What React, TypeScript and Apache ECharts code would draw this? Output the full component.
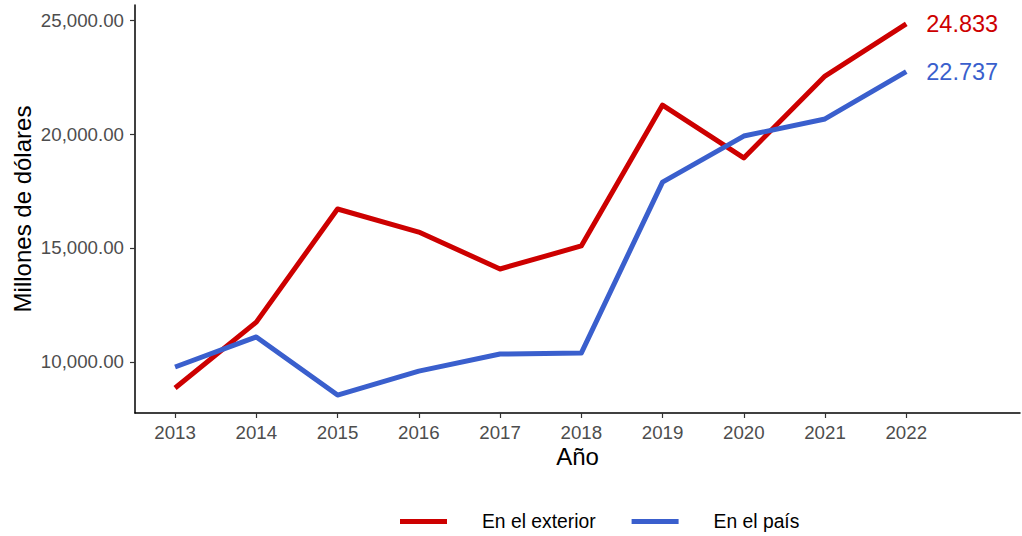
import React, { useEffect, useRef } from "react";
import * as echarts from "echarts";

const years = [2013, 2014, 2015, 2016, 2017, 2018, 2019, 2020, 2021, 2022];
const exterior = [8860, 11750, 16710, 15700, 14080, 15090, 21270, 18950, 22540, 24833];
const pais = [9780, 11100, 8550, 9600, 10350, 10390, 17890, 19910, 20660, 22737];
const yTicks = [10000, 15000, 20000, 25000];
const seriesNames = ["En el exterior", "En el país"];
const endLabels = ["24.833", "22.737"];
const colors = ["#CD0000", "#3A5FCD"];

export default function App() {
  const ref = useRef<HTMLDivElement>(null);
  useEffect(() => {
    const chart = echarts.init(ref.current!, null, { renderer: "svg" });
    const font = "Liberation Sans, Arial, sans-serif";
    const mk = (i: number, vals: number[]) => ({
      name: seriesNames[i],
      type: "line",
      data: years.map((y, k) => [y, vals[k]]),
      showSymbol: false,
      symbol: "none",
      lineStyle: { color: colors[i], width: 5, cap: "butt", join: "round" },
      itemStyle: { color: colors[i] },
      endLabel: {
        show: true,
        formatter: () => endLabels[i],
        color: colors[i],
        fontSize: 23.5,
        fontFamily: font,
        distance: 20,
      },
    });
    chart.setOption({
      animation: false,
      textStyle: { fontFamily: font },
      grid: { left: 135, right: 2, top: 5, bottom: 123, containLabel: false, outerBoundsMode: "none" },
      legend: {
        left: 395,
        top: 507,
        itemWidth: 47,
        itemHeight: 5,
        itemGap: 36,
        icon: "rect",
        data: seriesNames.map((n, i) => ({ name: n, itemStyle: { color: colors[i] } })),
        textStyle: { fontSize: 19.3, color: "#000", fontFamily: font, padding: [0, 0, 0, 30] },
      },
      xAxis: {
        type: "value",
        min: 2012.507,
        max: 2023.4,
        name: "Año",
        nameLocation: "middle",
        nameGap: 31,
        nameMoveOverlap: false,
        nameTextStyle: { fontSize: 24, color: "#000", fontFamily: font },
        axisLine: { lineStyle: { color: "#000", width: 1.5 } },
        axisTick: { show: true, length: 5, customValues: years, lineStyle: { color: "#333", width: 1.2 } },
        axisLabel: {
          customValues: years,
          formatter: (v: number) => String(v),
          fontSize: 18.7,
          color: "#4D4D4D",
          margin: 10,
          fontFamily: font,
        },
        splitLine: { show: false },
      },
      yAxis: {
        type: "value",
        min: 7763,
        max: 25658,
        name: "Millones de dólares",
        nameLocation: "middle",
        nameGap: 101,
        nameMoveOverlap: false,
        nameTextStyle: { fontSize: 24, color: "#000", fontFamily: font },
        axisLine: { show: true, lineStyle: { color: "#000", width: 1.5 } },
        axisTick: { show: true, length: 5, customValues: yTicks, lineStyle: { color: "#333", width: 1.2 } },
        axisLabel: {
          customValues: yTicks,
          formatter: (v: number) =>
            v.toLocaleString("en-US", { minimumFractionDigits: 2, maximumFractionDigits: 2 }),
          fontSize: 18.7,
          color: "#4D4D4D",
          margin: 11,
          fontFamily: font,
        },
        splitLine: { show: false },
      },
      series: [mk(0, exterior), mk(1, pais)],
    });
    return () => chart.dispose();
  }, []);
  return <div ref={ref} style={{ width: 1022, height: 536, position: "absolute", left: 0, top: 0 }} />;
}
